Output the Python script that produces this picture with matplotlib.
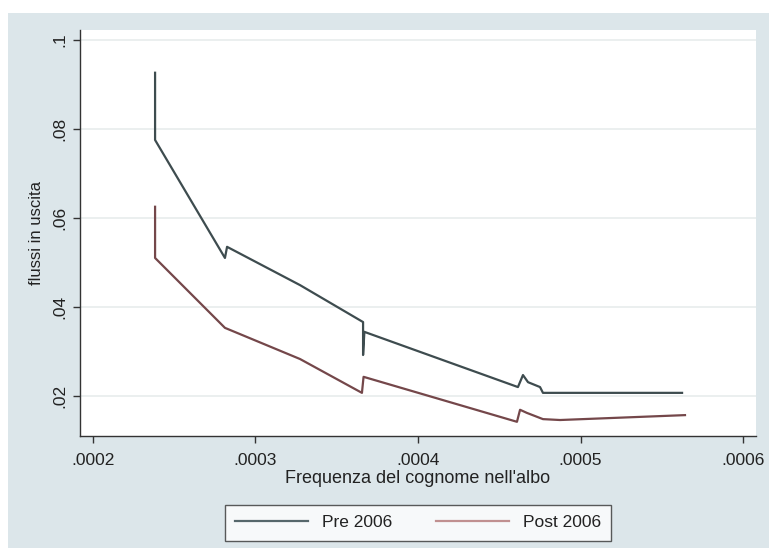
import matplotlib
matplotlib.use("Agg")
import matplotlib.pyplot as plt
from matplotlib.patches import Rectangle

plt.rcParams['font.family'] = ['Liberation Sans', 'DejaVu Sans']

# Data
pre_x = [0.0002382, 0.0002382, 0.0002812, 0.0002825, 0.0003274, 0.0003662, 0.0003662,
         0.0003670, 0.0004615, 0.0004646, 0.0004677, 0.0004751, 0.0004769, 0.0005625]
pre_y = [0.0926, 0.0775, 0.0510, 0.0535, 0.0449, 0.0366, 0.0292,
         0.0344, 0.0220, 0.0247, 0.0231, 0.0220, 0.0207, 0.0207]

post_x = [0.0002382, 0.0002382, 0.0002812, 0.0003274, 0.0003655, 0.0003665,
          0.0004609, 0.0004628, 0.0004670, 0.0004769, 0.0004874, 0.0005643]
post_y = [0.0625, 0.0510, 0.0353, 0.0283, 0.0207, 0.0243,
          0.0142, 0.0169, 0.0162, 0.0148, 0.0146, 0.0157]

x_ticks = [0.0002, 0.0003, 0.0004, 0.0005, 0.0006]
x_tick_labels = ['.0002', '.0003', '.0004', '.0005', '.0006']
y_ticks = [0.02, 0.04, 0.06, 0.08, 0.1]
y_tick_labels = ['.02', '.04', '.06', '.08', '.1']
series_labels = ['Pre 2006', 'Post 2006']

W, H = 769, 548
fig = plt.figure(figsize=(W / 100, H / 100), dpi=100, facecolor='white')
# Stata-style outer background panel
bg = Rectangle((8 / W, 0), 1 - 8 / W, (H - 13) / H,
               transform=fig.transFigure, facecolor='#dce6ea',
               edgecolor='none', zorder=-10)
fig.patches.append(bg)

ax = fig.add_axes([80 / W, (H - 436) / H, (756 - 80) / W, (436 - 30) / H])
ax.set_zorder(5)
ax.set_facecolor('white')

ax.plot(pre_x, pre_y, color='#3e4c4f', lw=1.6, label=series_labels[0], zorder=3)
ax.plot(post_x, post_y, color='#74474a', lw=1.6, label=series_labels[1], zorder=3)

ax.set_xlim(0.000192, 0.000608)
ax.set_ylim(0.01101, 0.1022)

ax.set_xticks(x_ticks)
ax.set_xticklabels(x_tick_labels)
ax.set_yticks(y_ticks)
ax.set_yticklabels(y_tick_labels, rotation=90, va='center')

ax.grid(axis='y', color='#e8ecec', lw=1.2, zorder=0)
ax.grid(axis='x', visible=False)

for s in ['top', 'right']:
    ax.spines[s].set_visible(False)
for s in ['left', 'bottom']:
    ax.spines[s].set_color('#333333')
    ax.spines[s].set_linewidth(1.0)

ax.tick_params(axis='both', direction='out', length=5, width=1, color='#333333',
               labelsize=12.5, labelcolor='#222222', pad=4)
ax.tick_params(axis='x', pad=7)

ax.set_xlabel("Frequenza del cognome nell'albo", fontsize=13, color='#222222', labelpad=2)
ax.set_ylabel('flussi in uscita', fontsize=12, color='#222222', labelpad=6)

leg = ax.legend(loc='upper center', bbox_to_anchor=(0.5, -0.148), ncol=2,
                frameon=True, fancybox=False, fontsize=12.5, handlelength=4.2,
                columnspacing=2.5, borderpad=0.6, handletextpad=0.8)
leg.get_frame().set_edgecolor('#333333')
leg.get_frame().set_linewidth(1.0)
leg.get_frame().set_facecolor('white')
for t in leg.get_texts():
    t.set_color('#222222')
leg.legend_handles[1].set_color('#c09090')
leg.legend_handles[0].set_color('#56676b')

fig.savefig('out.png', dpi=100, facecolor=fig.get_facecolor())
